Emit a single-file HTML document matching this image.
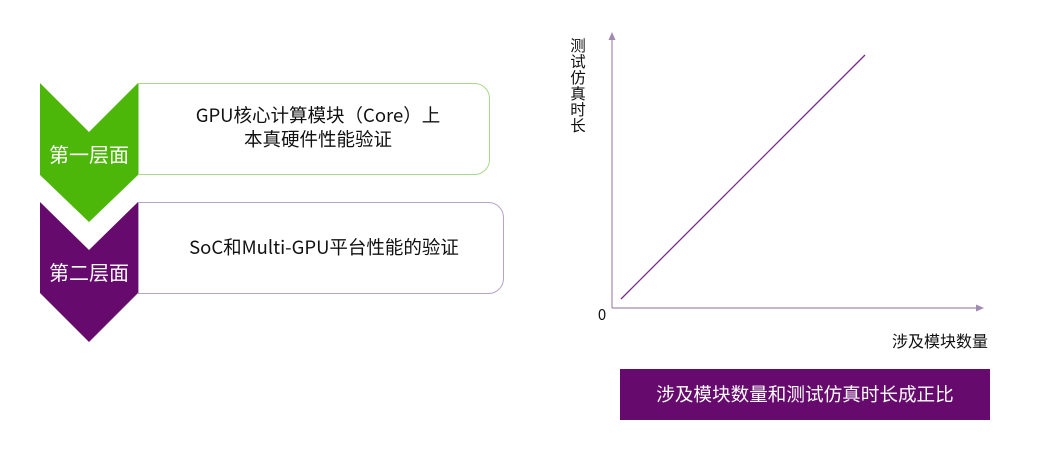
<!DOCTYPE html>
<html><head><meta charset="utf-8"><style>
body{margin:0;width:1051px;height:473px;background:#fff;overflow:hidden;font-family:"Noto Sans CJK SC","Liberation Sans",sans-serif;}
svg text{font-family:"Noto Sans CJK SC","Liberation Sans",sans-serif;}
</style></head><body>
<svg width="1051" height="473" viewBox="0 0 1051 473" xmlns="http://www.w3.org/2000/svg" style="position:absolute;left:0;top:0">
<path d="M138.5,83.5 H474 A15,15 0 0 1 489.5,98.5 V159 A15,15 0 0 1 474,174.5 H138.5 Z" fill="#fff" stroke="#a8d88a" stroke-width="1"/>
<path d="M138.5,202.5 H488 A15,15 0 0 1 503.5,217.5 V278 A15,15 0 0 1 488,293.5 H138.5 Z" fill="#fff" stroke="#b8a2c8" stroke-width="1"/>
<polygon points="40,83 89,132 138,83 138,175 89,222 40,175" fill="#4cb708"/>
<polygon points="40,202 89,250 138,202 138,293 89,342 40,293" fill="#660a6e"/>
<text x="89" y="162" fill="#fff" font-size="20" text-anchor="middle">第一层面</text>
<text x="89" y="280" fill="#fff" font-size="20" text-anchor="middle">第二层面</text>
<text x="318" y="122" fill="#111" font-size="18.5" text-anchor="middle">GPU核心计算模块（Core）上</text>
<text x="318" y="146" fill="#111" font-size="18.5" text-anchor="middle">本真硬件性能验证</text>
<text x="324" y="254" fill="#111" font-size="18.5" text-anchor="middle">SoC和Multi-GPU平台性能的验证</text>
<line x1="612" y1="308" x2="612" y2="38" stroke="#a08ab0" stroke-width="1.2"/>
<polygon points="612,32 608.5,40 615.5,40" fill="#a08ab0"/>
<line x1="612" y1="308" x2="977" y2="308" stroke="#a08ab0" stroke-width="1.2"/>
<polygon points="984,308 976,304.5 976,311.5" fill="#a08ab0"/>
<line x1="621" y1="299" x2="865" y2="55" stroke="#7a2a8a" stroke-width="1.3"/>
<text x="602" y="320" fill="#111" font-size="15" text-anchor="middle">0</text>
<g fill="#111" font-size="15.5" text-anchor="middle">
<text x="578" y="51">测</text><text x="578" y="67">试</text><text x="578" y="83">仿</text><text x="578" y="99">真</text><text x="578" y="115">时</text><text x="578" y="131">长</text>
</g>
<text x="940" y="347" fill="#111" font-size="16" text-anchor="middle">涉及模块数量</text>
<rect x="620" y="369" width="370" height="51" fill="#660a6e"/>
<text x="805" y="401" fill="#fff" font-size="18.6" text-anchor="middle">涉及模块数量和测试仿真时长成正比</text>
</svg>
</body></html>
